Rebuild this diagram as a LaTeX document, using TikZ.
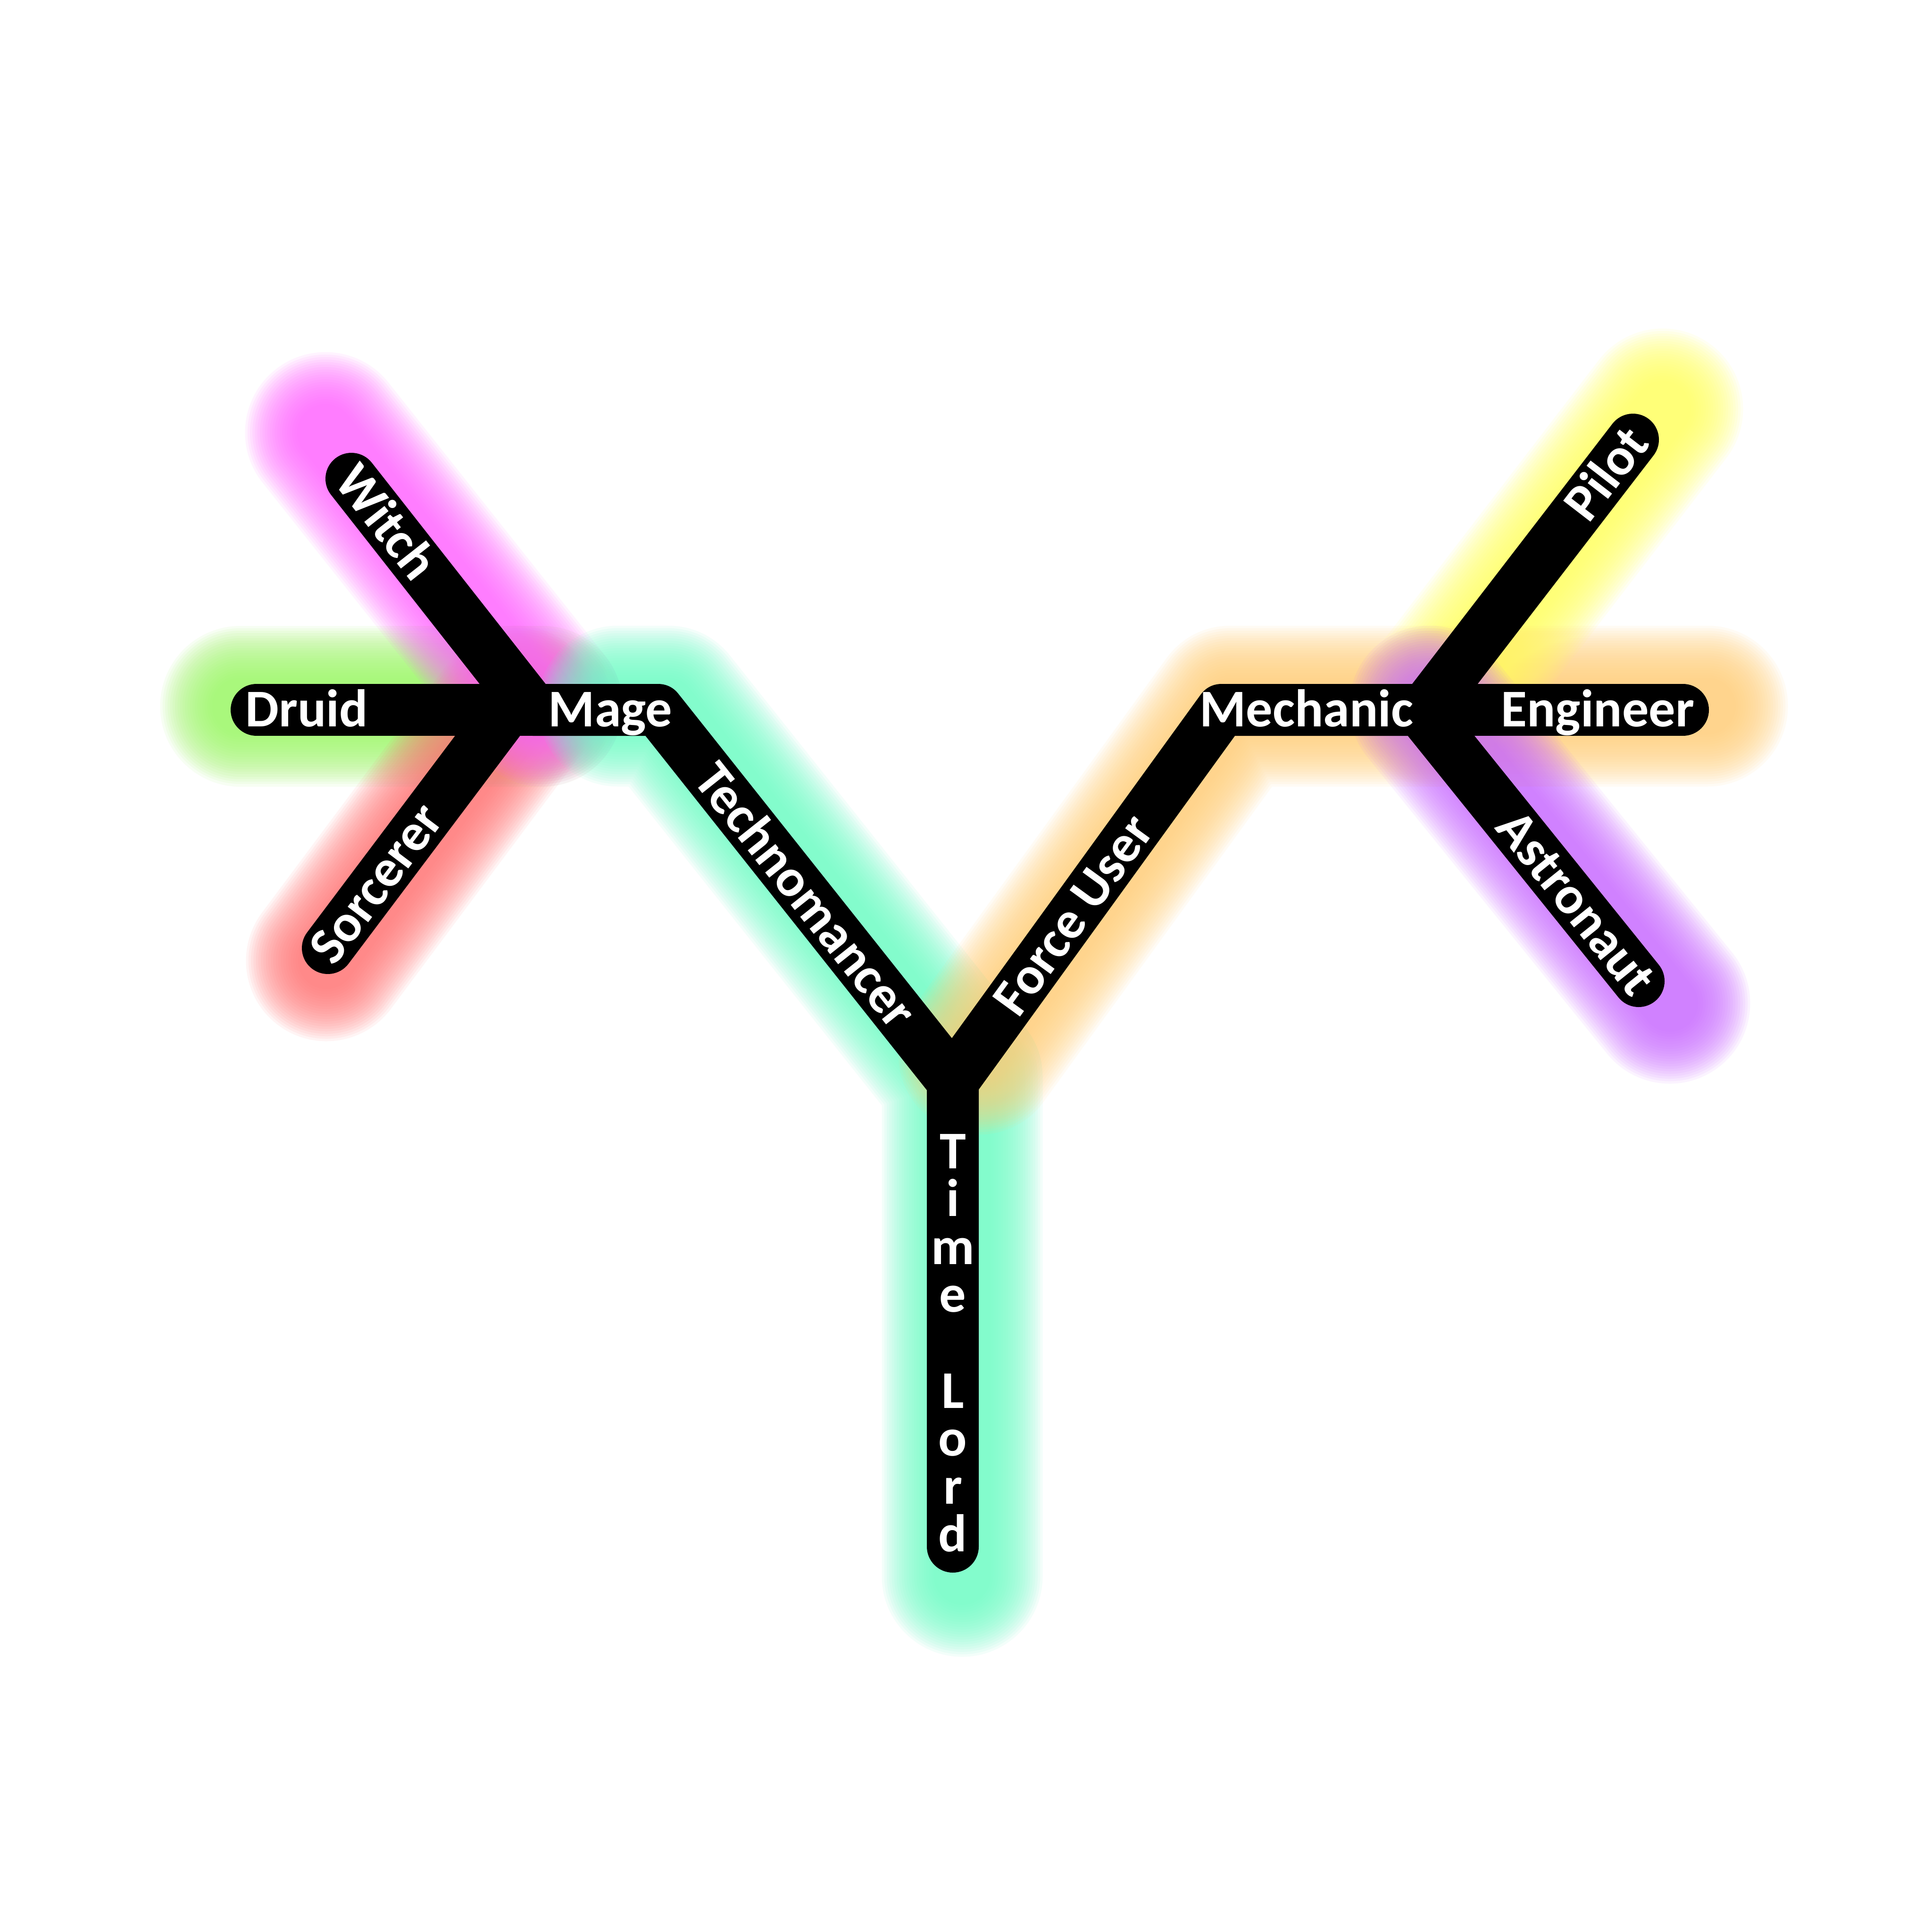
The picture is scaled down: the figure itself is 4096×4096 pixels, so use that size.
\documentclass[tikz,border=0pt]{standalone}
\usepackage{fontspec}
\setmainfont{Carlito}
\definecolor{gGreen}{RGB}{158,248,104}
\definecolor{gRed}{RGB}{255,120,120}
\definecolor{gMagenta}{RGB}{255,105,255}
\definecolor{gMint}{RGB}{112,252,200}
\definecolor{gOrange}{RGB}{255,210,125}
\definecolor{gYellow}{RGB}{255,255,100}
\definecolor{gPurple}{RGB}{205,110,255}
\newcommand\lblfont{\fontsize{32}{28.9}\selectfont\bfseries}
\newcommand\glowline[2]{%
  \foreach \k in {1,...,22}{\draw[draw=#1, draw opacity=0.08, line cap=round, line join=round, line width={(110+10.5*\k)*0.28453pt}] #2;}
}
\tikzset{
  track/.style={draw=black, line width=31.3pt, line cap=round, line join=round},
  lbl/.style={text=white, font=\lblfont, inner sep=0pt, text height=20.2pt, text depth=0pt},
}
\begin{document}
\begin{tikzpicture}[x=0.1mm,y=-0.1mm]
\useasboundingbox (0,0) rectangle (4096,4096);
\fill[white] (0,0) rectangle (4096,4096);
% stations
\coordinate (witchE) at (745,1015);
\coordinate (LW) at (1130,1505);
\coordinate (LS) at (1075,1505);
\coordinate (druidE) at (544,1505);
\coordinate (sorcE) at (695,2010);
\coordinate (V) at (1395,1505);
\coordinate (B) at (2020,2292);
\coordinate (tlE) at (2020,3279);
\coordinate (Vm) at (2590,1505);
\coordinate (Ra) at (3011,1505);
\coordinate (Rp) at (3021,1505);
\coordinate (engE) at (3568,1505);
\coordinate (pilotE) at (3462,932);
\coordinate (astroE) at (3474,2080);
% glow ends
\coordinate (gWitch) at (670,925);
\coordinate (gDruid) at (490,1505);
\coordinate (gSorc) at (672,2045);
\coordinate (gMage) at (1290,1505);
\coordinate (gTL) at (2020,3350);
\coordinate (gForce) at (2055,2243);
\coordinate (gEng) at (3600,1505);
\coordinate (gPilot) at (3505,875);
\coordinate (gAstro) at (3520,2135);
% glows (slightly offset, like a soft shadow)
\begin{scope}[transform canvas={xshift=2mm, yshift=0.8mm}]
\glowline{gGreen}{(gDruid) -- (LW)}
\glowline{gRed}{(gSorc) -- (LS)}
\glowline{gMagenta}{(gWitch) -- (LW)}
\glowline{gMint}{(gMage) -- (V) -- (B) -- (gTL)}
\glowline{gOrange}{(gForce) -- (Vm) -- (gEng)}
\glowline{gYellow}{(Rp) -- (gPilot)}
\glowline{gPurple}{(Ra) -- (gAstro)}
\end{scope}
% black tracks
\draw[track] (witchE) -- (LW) -- (V) -- (B) -- (tlE);
\draw[track] (druidE) -- (LW);
\draw[track] (sorcE) -- (LS);
\draw[track] (B) -- (Vm) -- (Ra) -- (astroE);
\draw[track] (Ra) -- (engE);
\draw[track] (Rp) -- (pilotE);
% labels
\node[lbl, anchor=west, rotate=-51.8] (witch) at (733,999) {Witch};
\node[lbl, anchor=west] (druid) at (520,1505) {Druid};
\node[lbl, anchor=west, rotate=53.0] (sorcerer) at (680,2030) {Sorcerer};
\node[lbl, anchor=west] (mage) at (1162,1505) {Mage};
\node[lbl, rotate=-51.55] (techno) at (1707,1899) {Technomancer};
\node[lbl, rotate=54.0] (force) at (2276,1940) {Force User};
\node[lbl] (mechanic) at (2770,1505) {Mechanic};
\node[lbl, anchor=east] (engineer) at (3593,1505) {Engineer};
\node[lbl, anchor=east, rotate=52.4] (pilot) at (3472,919) {Pilot};
\node[lbl, anchor=east, rotate=-51.2] (astronaut) at (3487,2096) {Astronaut};
\foreach \c/\k in {T/0,i/1,m/2,e/3,L/5,o/6,r/7,d/8}
  \node[text=white, font=\lblfont, inner sep=0pt, anchor=base] (tl\k) at (2020,{2477+101.6*\k}) {\c};
\end{tikzpicture}
\end{document}
